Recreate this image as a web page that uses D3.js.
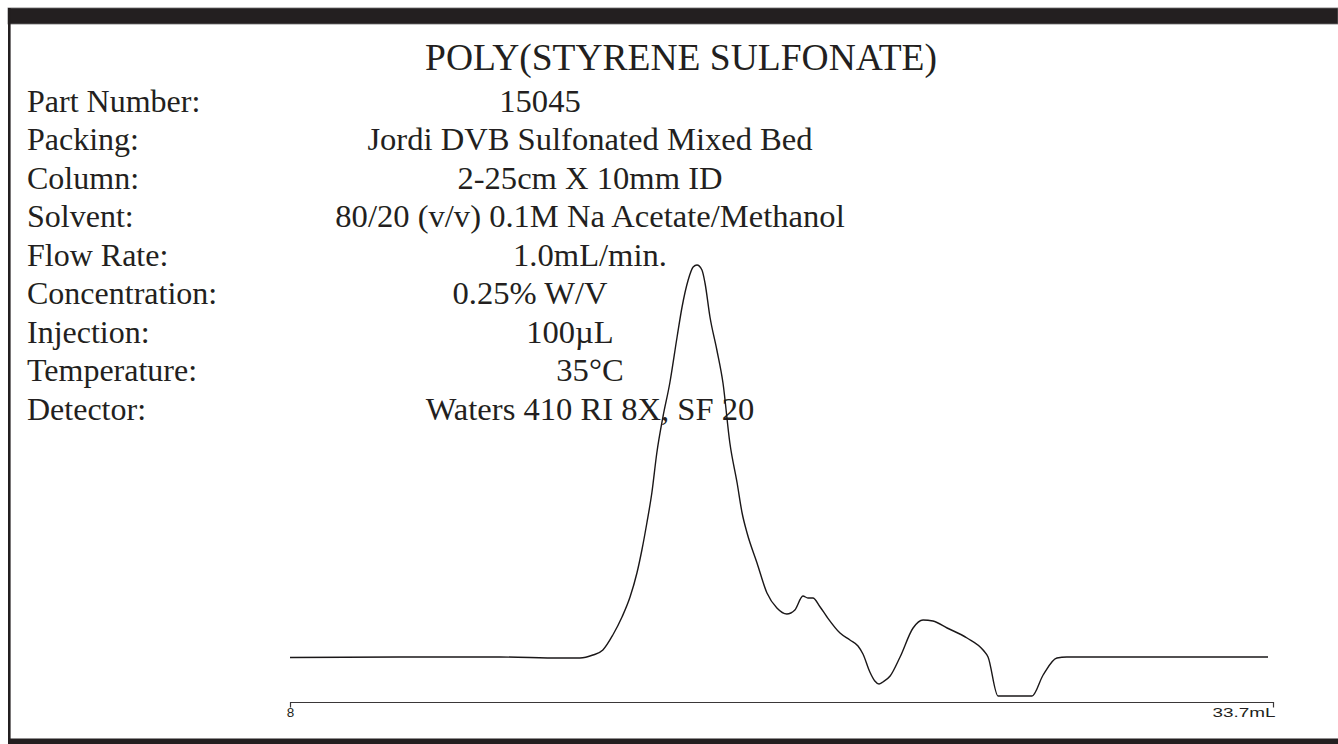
<!DOCTYPE html>
<html>
<head>
<meta charset="utf-8">
<script src="https://cdn.jsdelivr.net/npm/d3@7"></script>
<style>
  html, body { margin: 0; padding: 0; background: #fff; }
  svg { display: block; }
</style>
</head>
<body>
<svg id="chart" width="1338" height="744"></svg>
<script>
// Chromatogram: elution volume (mL) vs RI detector response (arbitrary units)
const volume = [
  8.00, 10.88, 13.49, 15.06, 15.58, 15.92, 16.18, 16.44, 16.68, 16.89,
  17.07, 17.20, 17.33, 17.46, 17.59, 17.75, 17.93, 18.12, 18.25, 18.41,
  18.54, 18.64, 18.77, 18.85, 18.98, 19.16, 19.32, 19.50, 19.69, 19.82,
  19.95, 20.21, 20.47, 20.73, 20.99, 21.20, 21.41, 21.54, 21.67, 21.86,
  22.04, 22.38, 22.64, 22.85, 22.98, 23.16, 23.29, 23.40, 23.50, 23.69, 23.95,
  24.29, 24.55, 24.81, 25.18, 25.70, 26.12, 26.25, 26.51, 27.40, 27.69,
  28.05, 28.31, 28.65, 33.57
];
const response = [
  -0.5, 0, 0, -1, -1, 2, 7, 22, 40, 60,
  84, 107, 134, 164, 204, 240, 274, 320, 350, 377,
  390, 392, 387, 374, 340, 307, 274, 214, 174, 144,
  124, 94, 64, 49, 43, 47, 61, 59, 59, 50,
  40, 24, 17, 11, 3, -15, -24, -27, -25, -19, 0,
  29, 37, 36, 29, 19, 7, 0, -39, -39, -18,
  -1, 0, 0, 0
];

const title = "POLY(STYRENE SULFONATE)";
const paramNames = ["Part Number:", "Packing:", "Column:", "Solvent:", "Flow Rate:",
  "Concentration:", "Injection:", "Temperature:", "Detector:"];
const paramValues = ["15045", "Jordi DVB Sulfonated Mixed Bed", "2-25cm X 10mm ID",
  "80/20 (v/v) 0.1M Na Acetate/Methanol", "1.0mL/min.", "0.25% W/V", "100µL",
  "35°C", "Waters 410 RI 8X, SF 20"];

const axisDomain = [8, 33.7];
const axisTickLabels = ["8", "33.7mL"];

const svg = d3.select("#chart");
const W = 1338, H = 744;

// Frame: heavy bar along the top, thin bar at left, bar along the bottom
const frameColor = "#231f20";
svg.append("rect").attr("x", 8).attr("y", 8).attr("width", W - 8).attr("height", 16)
  .attr("fill", frameColor).attr("stroke", "#6d6b6c").attr("stroke-width", 0.8);
svg.append("rect").attr("x", 8).attr("y", 8).attr("width", 2.6).attr("height", H - 8)
  .attr("fill", frameColor);
svg.append("rect").attr("x", 8).attr("y", 738.5).attr("width", W - 8).attr("height", 6)
  .attr("fill", frameColor);

const serif = "'Liberation Serif', 'Times New Roman', serif";

// Title
svg.append("text")
  .attr("x", 681).attr("y", 70)
  .attr("text-anchor", "middle")
  .attr("font-family", serif)
  .attr("font-size", 37.5)
  .attr("fill", "#231f20")
  .text(title);

// Method parameters
const rowY = d3.scaleLinear().domain([0, paramNames.length - 1]).range([111.5, 419.5]);
// horizontal centre of each value string
const valueCentre = { 0: 540, 5: 530, 6: 570 };

const rows = svg.append("g").attr("font-family", serif).attr("fill", "#231f20");
rows.selectAll("text.name").data(paramNames).join("text")
  .attr("class", "name")
  .attr("x", 27)
  .attr("y", (d, i) => rowY(i))
  .attr("font-size", 32)
  .text(d => d);
rows.selectAll("text.value").data(paramValues).join("text")
  .attr("class", "value")
  .attr("x", (d, i) => valueCentre[i] !== undefined ? valueCentre[i] : 590)
  .attr("y", (d, i) => rowY(i))
  .attr("font-size", 32.6)
  .attr("text-anchor", "middle")
  .text(d => d);

// Scales
const x = d3.scaleLinear().domain(axisDomain).range([290, 1273]);
const y = d3.scaleLinear().domain([0, 392]).range([657, 265]);

// Trace
const line = d3.line()
  .x((d, i) => x(volume[i]))
  .y(d => y(d))
  .curve(d3.curveMonotoneX);

svg.append("path")
  .datum(response)
  .attr("d", line)
  .attr("fill", "none")
  .attr("stroke", "#1a1718")
  .attr("stroke-width", 1.4)
  .attr("stroke-linejoin", "round");

// Volume axis: bracket line with end ticks
const axisY = 702;
const axis = d3.axisBottom(x)
  .tickValues(axisDomain)
  .tickSize(5.5)
  .tickSizeOuter(0)
  .tickFormat((d, i) => axisTickLabels[i]);

const gAxis = svg.append("g").attr("transform", `translate(0,${axisY})`).call(axis);
gAxis.select(".domain").attr("stroke", "#3a3738").attr("stroke-width", 1.2);
gAxis.selectAll(".tick line").attr("stroke", "#3a3738").attr("stroke-width", 1.2);
gAxis.selectAll(".tick text")
  .attr("font-family", "'Liberation Sans', Arial, sans-serif")
  .attr("font-size", 12.5)
  .attr("fill", "#231f20")
  .attr("y", 6.5)
  .attr("dy", "0.71em")
  .attr("text-anchor", (d, i) => i === 0 ? "middle" : "end")
  .attr("dx", (d, i) => i === 0 ? 0 : 2)
  .attr("textLength", (d, i) => i === 0 ? 7.5 : 63)
  .attr("lengthAdjust", "spacingAndGlyphs");
</script>
</body>
</html>
